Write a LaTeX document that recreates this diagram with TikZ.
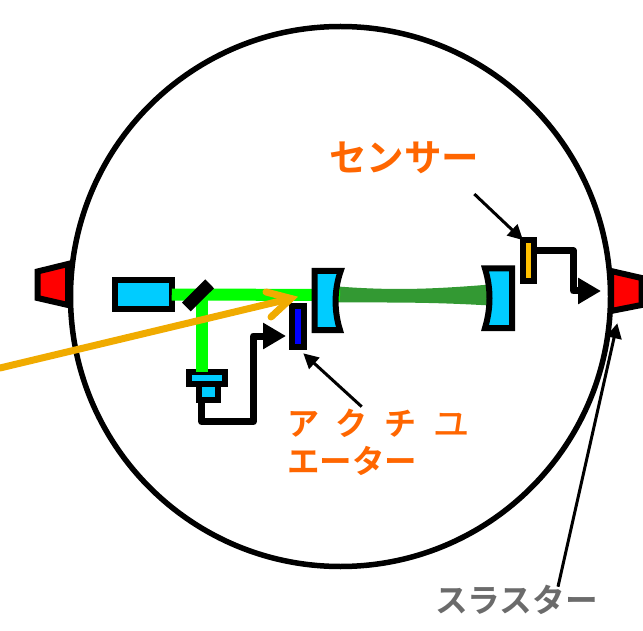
\documentclass[tikz,border=0pt]{standalone}
\usepackage{fontspec}
\newfontfamily\jpfont{Noto Sans CJK JP}[BoldFont={Noto Sans CJK JP Bold}]
\usetikzlibrary{arrows.meta}
\definecolor{cy}{HTML}{00CCFF}
\definecolor{bright}{HTML}{00FF00}
\definecolor{darkg}{HTML}{339933}
\definecolor{amber}{HTML}{F0AB00}
\definecolor{lab}{HTML}{FF6600}
\definecolor{gr}{HTML}{6B6B6B}
\definecolor{yel}{HTML}{FFC000}
\tikzset{
  part/.style={draw=black,line width=6pt,miter limit=10,inner sep=0pt,outer sep=0pt,minimum width=#1},
  part/.default=10pt,
  optic/.style={draw=black,line width=6pt,fill=cy,line join=miter},
  jet/.style={draw=black,line width=6pt,fill=red,line join=miter},
  wire/.style={draw=black,line width=7pt,line join=round,-{Triangle[length=23pt,width=25pt]}},
  pointer/.style={draw=black,line width=3pt,-{Triangle[length=15pt,width=15pt]}},
  beam/.style={draw=bright,line width=12pt},
  lbl/.style={font=\jpfont\bfseries,inner sep=0pt,anchor=west}
}
\begin{document}
\begin{tikzpicture}[x=1pt,y=-1pt]
\useasboundingbox (0,0) rectangle (643,631);
% dark beam
\fill[darkg] (338,286.5) .. controls (390,290.5) and (430,289.5) .. (490,284.5)
  -- (490,305.5) .. controls (430,302) and (390,302.5) .. (338,302.5) -- cycle;
% thrusters
\draw[jet] (37.5,271.5) -- (37.5,298) -- (68,305) -- (68,264) -- cycle;
\draw[jet] (611,271) -- (641.5,278) -- (641.5,305) -- (611,311) -- cycle;
% hull
\node[circle,draw=black,line width=5.5pt,minimum size=540pt,inner sep=0pt,outer sep=0pt] (hull) at (340.5,296.5) {};
% green beam
\coordinate (split) at (202,295);
\coordinate (lensL) at (340,295);
\node[part,fill=cy,minimum width=56.5pt,minimum height=29.5pt] (laser) at (143.5,294.5) {};
\node[part,fill=cy,minimum width=19pt,minimum height=16pt,anchor=north] (detB) at (208.2,384.3) {};
\node[part,fill=cy,minimum width=36.5pt,minimum height=12.5pt] (detA) at (207.2,378.2) {};
\draw[beam] (laser.east) -- (lensL);
\draw[beam] ([xshift=-6pt]split) -- ++(6pt,0) -- (detA.north -| split);
% splitter
\fill[black] (205.3,279.3) -- (214,288.3) -- (190.7,311.3) -- (182,302.7) -- cycle;
% lenses
\draw[optic] (314.5,271) -- (340.7,271) .. controls (334,290) and (334,311) .. (340,330) -- (314.5,330) -- cycle;
\draw[optic] (512.2,268.5) -- (485,268.5) .. controls (491,288) and (491,308) .. (485,328) -- (512.2,328) -- cycle;
% actuator and sensor
\node[part,fill=blue,minimum width=12pt,minimum height=41.5pt] (act) at (298.3,326.4) {};
\node[part,fill=yel,minimum width=11.5pt,minimum height=41pt] (sen) at (528.7,260.6) {};
% wires
\coordinate (w1) at (201.7,421.7);
\coordinate (w2) at (253.3,421.7);
\coordinate (w3) at (253.3,336);
\coordinate (wt) at (286,336);
\draw[wire] (detB.south -| w1) -- (w1) -- (w2) -- (w3) -- (wt);
\coordinate (s1) at (573.3,250.7);
\coordinate (s2) at (573.3,291);
\coordinate (st) at (601,291);
\draw[wire] (sen.east |- s1) -- (s1) -- (s2) -- (st);
% sun arrow
\coordinate (sunA) at (0,368);
\coordinate (sunB) at (291,298.5);
\draw[draw=amber,line width=7pt,line cap=round] (sunA) -- (sunB);
\draw[draw=amber,line width=7pt,line cap=round,line join=miter] (266,292) -- (sunB) -- (271,317);
% labels
\node[lbl,text=lab,font=\jpfont\bfseries\fontsize{37.5}{37.5}\selectfont] (sensorL) at (329,158) {センサー};
\node[lbl,text=lab,font=\jpfont\bfseries\fontsize{32}{32}\selectfont] (actL1) at (287,423) {ア\hspace{16.7pt}ク\hspace{16.7pt}チ\hspace{13pt}{\mdseries\fontsize{44}{44}\selectfont ュ}};
\node[lbl,text=lab,font=\jpfont\bfseries\fontsize{32.5}{32.5}\selectfont] (actL2) at (287,461) {エーター};
\node[lbl,text=gr,font=\jpfont\bfseries\fontsize{32.7}{32.7}\selectfont] (thrL) at (435,600) {スラスター};
% pointers
\coordinate (pS) at (474.3,194);
\coordinate (pA) at (361.7,406.7);
\coordinate (pT) at (558,586.7);
\draw[pointer] (pS) -- (sen.north west);
\draw[pointer] (pA) -- (303.3,353.3);
\draw[pointer] (pT) -- (617.3,323.3);
\end{tikzpicture}
\end{document}
